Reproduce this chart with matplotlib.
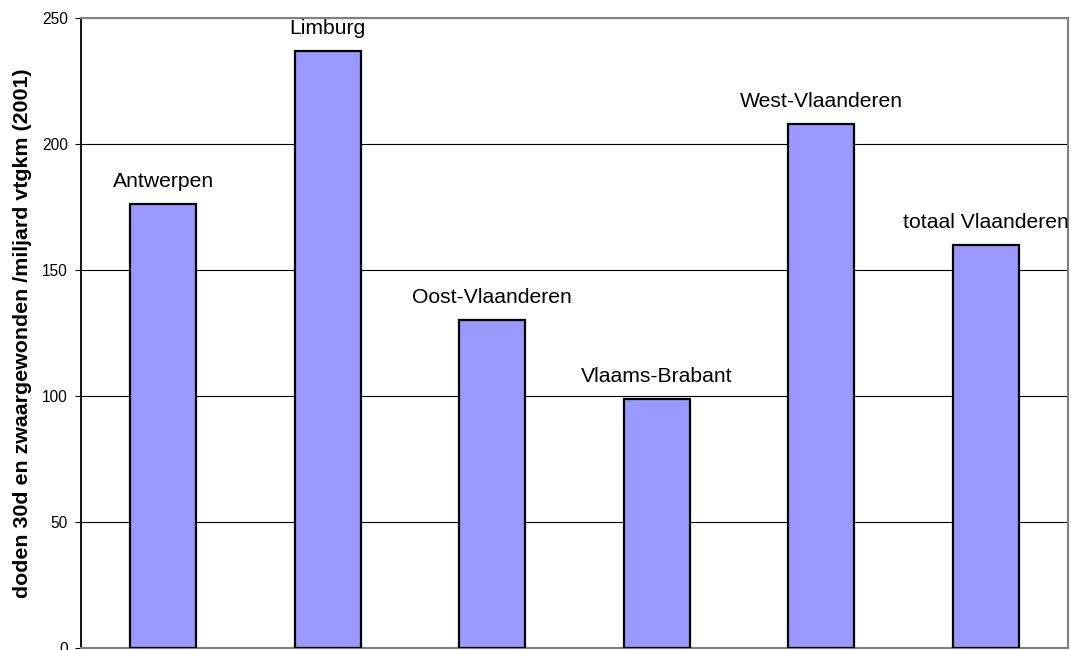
import matplotlib
matplotlib.use("Agg")
import matplotlib.pyplot as plt
import numpy as np

plt.rcParams['font.family'] = ['Liberation Sans', 'DejaVu Sans']

provinces = ["Antwerpen", "Limburg", "Oost-Vlaanderen", "Vlaams-Brabant",
             "West-Vlaanderen", "totaal Vlaanderen"]
values = [176, 237, 130, 99, 208, 160]
yticks = [0, 50, 100, 150, 200, 250]
ylabel = "doden 30d en zwaargewonden /miljard vtgkm (2001)"

fig = plt.figure(figsize=(10.71, 6.5), dpi=100)
ax = fig.add_axes([81 / 1071, 2 / 650, 987 / 1071, 630 / 650])

x = np.arange(len(provinces))
bars = ax.bar(x, values, width=0.4, color="#9999FF", edgecolor="black",
              linewidth=1.6, zorder=3)

for xi, v, name in zip(x, values, provinces):
    ax.annotate(name, (xi, v), xytext=(0, 17), textcoords="offset pixels",
                ha="center", va="baseline", fontsize=15.2, color="black",
                annotation_clip=False, zorder=4)

ax.set_xlim(-0.5, len(provinces) - 0.5)
ax.set_ylim(0, 250)
ax.set_yticks(yticks)
ax.set_yticklabels([str(t) for t in yticks], fontsize=11.2)
ax.set_xticks([])
ax.yaxis.grid(True, color="black", linewidth=0.8, zorder=0)
ax.set_axisbelow(True)
ax.tick_params(axis="y", length=4, width=0.8, pad=5.5)

ax.spines["left"].set_color("black")
ax.spines["left"].set_linewidth(1.3)
for side in ("top", "right", "bottom"):
    ax.spines[side].set_color("#808080")
    ax.spines[side].set_linewidth(1.5)

ax.set_ylabel(ylabel, fontsize=15.4, fontweight="bold", labelpad=7)

fig.savefig("out.png", dpi=100)
